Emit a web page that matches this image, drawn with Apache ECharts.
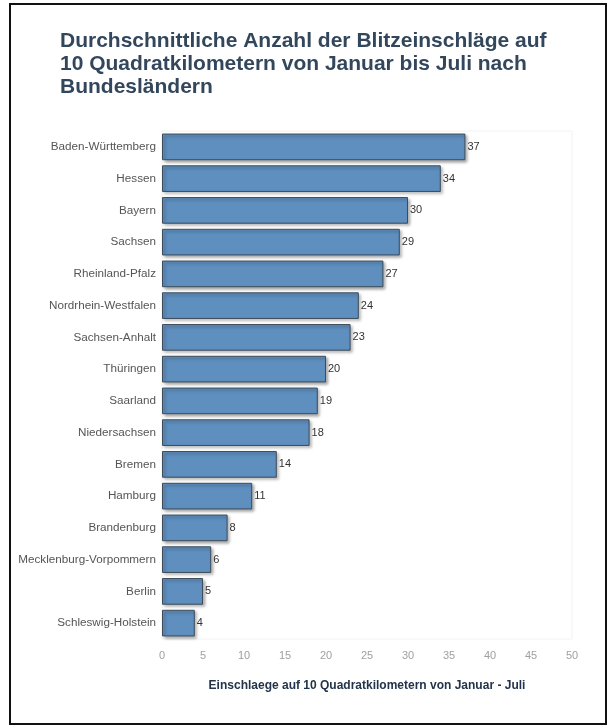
<!DOCTYPE html>
<html><head><meta charset="utf-8">
<script src="https://cdn.jsdelivr.net/npm/echarts@6/dist/echarts.min.js"></script>
<style>html,body{margin:0;padding:0;background:#fff}
#frame{position:absolute;left:9px;top:3px;width:594px;height:718px;border:2px solid #111;}
#c{position:absolute;left:0;top:0;width:612px;height:726px}</style>
</head><body><div id="frame"></div><div id="c"></div>
<script>
const categories = ["Baden-Württemberg","Hessen","Bayern","Sachsen","Rheinland-Pfalz","Nordrhein-Westfalen","Sachsen-Anhalt","Thüringen","Saarland","Niedersachsen","Bremen","Hamburg","Brandenburg","Mecklenburg-Vorpommern","Berlin","Schleswig-Holstein"];
const values = [37,34,30,29,27,24,23,20,19,18,14,11,8,6,5,4];
const xTicks = [0,5,10,15,20,25,30,35,40,45,50];
const titleText = "Durchschnittliche Anzahl der Blitzeinschläge auf\n10 Quadratkilometern von Januar bis Juli nach\nBundesländern";
const axisTitle = "Einschlaege auf 10 Quadratkilometern von Januar - Juli";

const chart = echarts.init(document.getElementById('c'));
chart.setOption({
  animation:false,
  title:{text:titleText,left:55,top:25,textStyle:{fontFamily:'Liberation Sans, Arial',fontSize:21,fontWeight:'bold',color:'#33475c',lineHeight:23}},
  grid:{left:162,right:40,top:131,bottom:87,show:true,borderColor:'#f2f2f2',borderWidth:1},
  xAxis:{type:'value',min:0,max:50,interval:5,
    axisLine:{show:false},axisTick:{show:false},splitLine:{show:false},
    axisLabel:{color:'#a0a0a0',fontSize:11,fontFamily:'Liberation Sans, Arial',margin:11,formatter:v=>xTicks.includes(v)?String(v):''},
    name:axisTitle,nameLocation:'middle',nameGap:41,
    nameTextStyle:{fontFamily:'Liberation Sans, Arial',fontSize:12,fontWeight:'bold',color:'#23344a'}},
  yAxis:{type:'category',data:categories,inverse:true,
    axisLine:{show:false},axisTick:{show:false},
    axisLabel:{color:'#555',fontSize:11.7,fontFamily:'Liberation Sans, Arial',margin:6}},
  series:[{type:'bar',data:values,barCategoryGap:'16%',
    itemStyle:{color:'#5e8fbf',borderColor:'#3e4c5a',borderWidth:1,shadowColor:'rgba(0,0,0,0.35)',shadowBlur:3,shadowOffsetX:2,shadowOffsetY:2},
    label:{show:true,position:'right',distance:2,color:'#333',fontSize:11,fontFamily:'Liberation Sans, Arial'}}]
});
</script></body></html>
